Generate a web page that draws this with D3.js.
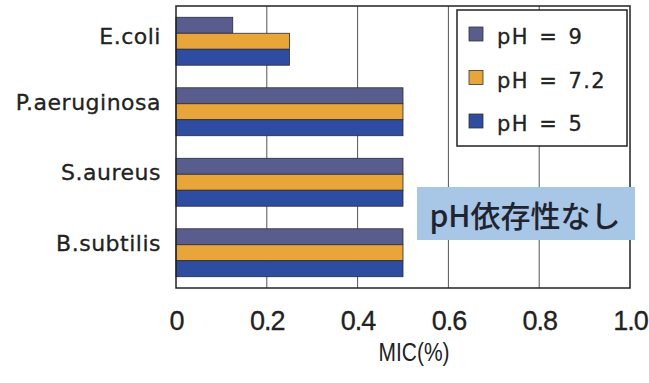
<!DOCTYPE html>
<html>
<head>
<meta charset="utf-8">
<script src="https://cdn.jsdelivr.net/npm/d3@7/dist/d3.min.js"></script>
<style>
  html, body { margin: 0; padding: 0; background: #fff; }
  svg { display: block; }
</style>
</head>
<body>
<svg id="chart" width="649" height="383"></svg>
<script>
// Bacteria tested and MIC (%) at each pH
const categories = ["E.coli", "P.aeruginosa", "S.aureus", "B.subtilis"];
const seriesNames = ["pH = 9", "pH = 7.2", "pH = 5"];
const mic_pH9 = [0.125, 0.5, 0.5, 0.5];
const mic_pH72 = [0.25, 0.5, 0.5, 0.5];
const mic_pH5 = [0.25, 0.5, 0.5, 0.5];
const xTicks = [0, 0.2, 0.4, 0.6, 0.8, 1.0];
const xTickLabels = ["0", "0.2", "0.4", "0.6", "0.8", "1.0"];
const seriesColors = ["#595d8d", "#e8a63a", "#2e4ca0"];

const seriesValues = [mic_pH9, mic_pH72, mic_pH5];

const svg = d3.select("#chart");
const plot = { left: 176, right: 630, top: 6, bottom: 288 };

const x = d3.scaleLinear().domain([0, 1.0]).range([plot.left, plot.right]);
const y = d3.scaleBand().domain(categories).range([plot.top, plot.bottom]).paddingInner(0.32).paddingOuter(0.16);
const ySub = d3.scaleBand().domain(seriesNames).range([0, y.bandwidth()]);

const sans = "'Liberation Sans', Arial, sans-serif";
const wide = "'DejaVu Sans', sans-serif";
const cjk = "'Noto Sans CJK JP', sans-serif";
const ink = "#222";

// vertical gridlines
svg.append("g").selectAll("line")
  .data(xTicks.slice(1, -1))
  .join("line")
  .attr("x1", d => x(d)).attr("x2", d => x(d))
  .attr("y1", plot.top).attr("y2", plot.bottom)
  .attr("stroke", "#555").attr("stroke-width", 1);

// bars
const groups = svg.append("g").selectAll("g")
  .data(categories)
  .join("g")
  .attr("transform", d => `translate(0,${y(d)})`);

groups.selectAll("rect")
  .data((c, i) => seriesNames.map((s, j) => ({ s, j, v: seriesValues[j][i] })))
  .join("rect")
  .attr("x", x(0))
  .attr("y", d => ySub(d.s))
  .attr("width", d => x(d.v) - x(0))
  .attr("height", ySub.bandwidth())
  .attr("fill", d => seriesColors[d.j])
  .attr("stroke", "#2a2a3a")
  .attr("stroke-width", 0.8);

// plot frame
svg.append("rect")
  .attr("x", plot.left).attr("y", plot.top)
  .attr("width", plot.right - plot.left).attr("height", plot.bottom - plot.top)
  .attr("fill", "none").attr("stroke", ink).attr("stroke-width", 1.5);

// category axis
const yAxis = svg.append("g")
  .attr("transform", `translate(${plot.left},0)`)
  .call(d3.axisLeft(y).tickSize(0).tickPadding(15));
yAxis.select(".domain").remove();
yAxis.selectAll(".tick").attr("transform", (d, i) => `translate(0,${y(d) + y.bandwidth() / 2 - (i === 0 ? 4 : 9)})`);
yAxis.selectAll("text")
  .attr("font-family", wide).attr("font-size", 22).attr("letter-spacing", 0.5)
  .attr("fill", ink).attr("stroke", ink).attr("stroke-width", 0.3);

// value axis
const xAxis = svg.append("g")
  .attr("transform", `translate(0,${plot.bottom})`)
  .call(d3.axisBottom(x).tickValues(xTicks).tickFormat((d, i) => xTickLabels[i]).tickSize(0));
xAxis.select(".domain").remove();
xAxis.selectAll("text")
  .attr("y", 42).attr("dy", null)
  .attr("font-family", sans).attr("font-size", 27).attr("letter-spacing", -1)
  .attr("fill", ink).attr("stroke", ink).attr("stroke-width", 0.3);

svg.append("text")
  .attr("x", 414).attr("y", 361)
  .attr("text-anchor", "middle")
  .attr("font-family", sans)
  .attr("font-size", 25).attr("fill", ink)
  .attr("textLength", 71).attr("lengthAdjust", "spacingAndGlyphs")
  .text("MIC(%)");

// legend
const legend = svg.append("g");
legend.append("rect")
  .attr("x", 457).attr("y", 10).attr("width", 170).attr("height", 136)
  .attr("fill", "#fff").attr("stroke", ink).attr("stroke-width", 1.5);
const legendRow = d3.scalePoint().domain(seriesNames).range([35, 122]);
const rows = legend.selectAll("g.row")
  .data(seriesNames)
  .join("g").attr("class", "row")
  .attr("transform", d => `translate(0,${legendRow(d)})`);
rows.append("rect")
  .attr("x", 469).attr("y", -8).attr("width", 14).attr("height", 14)
  .attr("fill", (d, i) => seriesColors[i]).attr("stroke", "#333").attr("stroke-width", 0.8);
rows.append("text")
  .attr("x", 497).attr("y", 9)
  .attr("font-family", wide).attr("font-size", 21)
  .attr("letter-spacing", 1.4).attr("word-spacing", 2.2)
  .attr("fill", ink).attr("stroke", ink).attr("stroke-width", 0.3)
  .text(d => d);

// annotation
svg.append("rect")
  .attr("x", 417).attr("y", 187).attr("width", 218).attr("height", 53)
  .attr("fill", "#a8c6e6");
svg.append("text")
  .attr("x", 525).attr("y", 216).attr("dy", "0.36em")
  .attr("text-anchor", "middle")
  .attr("font-family", cjk)
  .attr("font-weight", 500)
  .attr("font-size", 30).attr("fill", "#1e2430")
  .text("pH依存性なし");
</script>
</body>
</html>
